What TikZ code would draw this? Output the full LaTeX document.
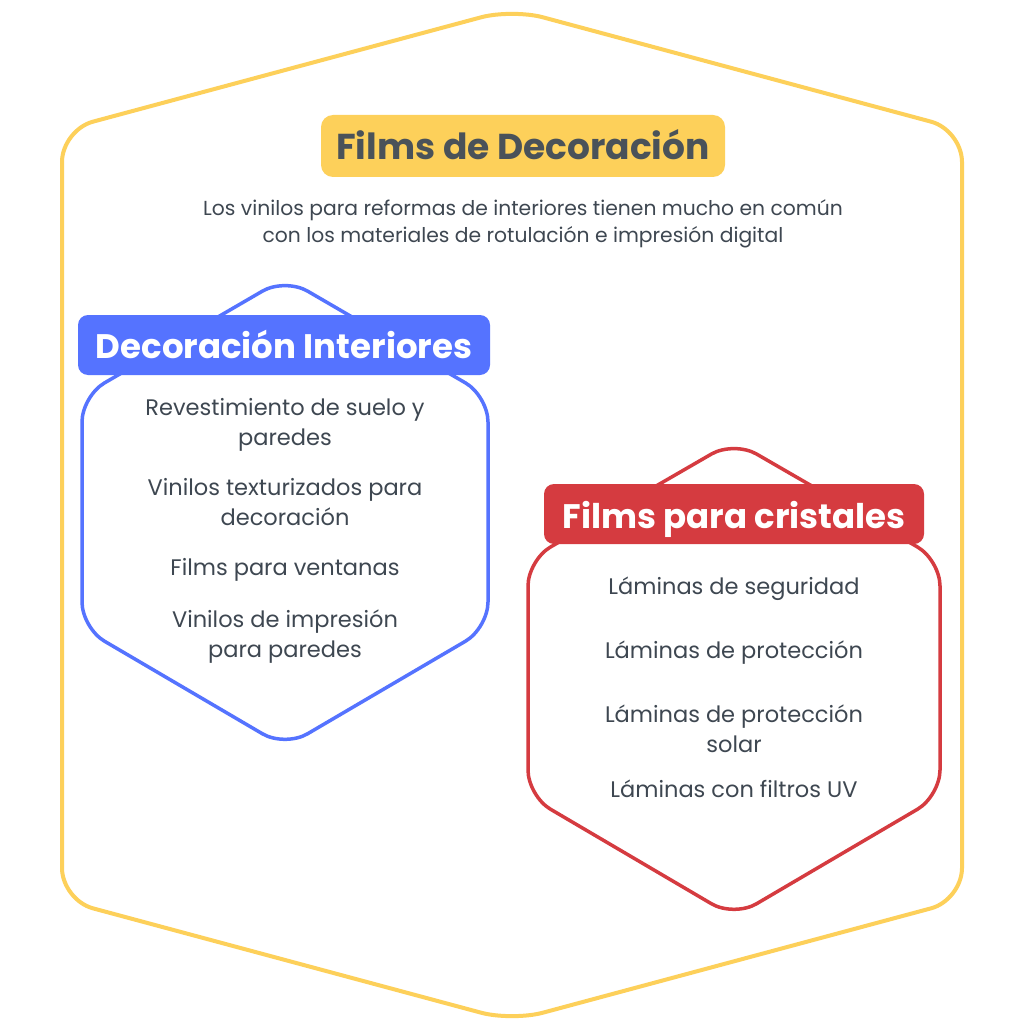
\documentclass[tikz,border=0pt]{standalone}
\usepackage{fontspec}
\setmainfont{Poppins}
\definecolor{ylw}{HTML}{FDD05A}
\definecolor{blu}{HTML}{5573FF}
\definecolor{rd}{HTML}{D53B40}
\definecolor{txt}{HTML}{3E4751}
\definecolor{ttl}{HTML}{4A5259}
\tikzset{
  item/.style={anchor=base, text=txt, font=\fontsize{22.5}{26}\selectfont, inner sep=0pt},
  subt/.style={anchor=base, text=txt, font=\fontsize{20.3}{24}\selectfont, inner sep=0pt},
  labeltext/.style={anchor=base, text=white, font=\bfseries\fontsize{34}{40}\selectfont, inner sep=0pt},
}
\begin{document}
\begin{tikzpicture}[x=1pt,y=-1pt]
\useasboundingbox[fill=white] (0,0) rectangle (1024,1024);
% outer yellow hexagon
\draw[ylw, line width=4pt, rounded corners=32pt]
  (62,500) -- (62,130) -- (512,9) -- (962,130) -- (962,900) -- (512,1021) -- (62,900) -- cycle;
% title
\fill[ylw, rounded corners=12pt] (321,115) rectangle (725,177);
\node[anchor=base, text=ttl, font=\bfseries\fontsize{36}{42}\selectfont, inner sep=0pt] (title) at (523,160) {Films de Decoración};
\node[subt] (sub1) at (523,216) {Los vinilos para reformas de interiores tienen mucho en común};
\node[subt] (sub2) at (523,243) {con los materiales de rotulación e impresión digital};
% blue hexagon
\draw[blu, line width=3.5pt, rounded corners=26pt]
  (82,500) -- (82,396) -- (285,278) -- (488,396) -- (488,628) -- (285,747) -- (82,628) -- cycle;
\fill[blu, rounded corners=10pt] (78,315) rectangle (490,375);
\node[labeltext] (bluet) at (284,358) {Decoración Interiores};
\node[item] (b1) at (285,415) {Revestimiento de suelo y};
\node[item] (b2) at (285,445) {paredes};
\node[item] (b3) at (285,495) {Vinilos texturizados para};
\node[item] (b4) at (285,525) {decoración};
\node[item] (b5) at (285,575) {Films para ventanas};
\node[item] (b6) at (285,627) {Vinilos de impresión};
\node[item] (b7) at (285,657) {para paredes};
% red hexagon
\draw[rd, line width=3.5pt, rounded corners=26pt]
  (528,678) -- (528,560) -- (734,441) -- (940,560) -- (940,796) -- (734,917) -- (528,796) -- cycle;
\fill[rd, rounded corners=10pt] (544,484) rectangle (924,544);
\node[labeltext] (redt) at (734,528) {Films para cristales};
\node[item] (r1) at (734,594) {Láminas de seguridad};
\node[item] (r2) at (734,658) {Láminas de protección};
\node[item] (r3) at (734,722) {Láminas de protección};
\node[item] (r4) at (734,752) {solar};
\node[item] (r5) at (734,797) {Láminas con filtros UV};
\end{tikzpicture}
\end{document}
